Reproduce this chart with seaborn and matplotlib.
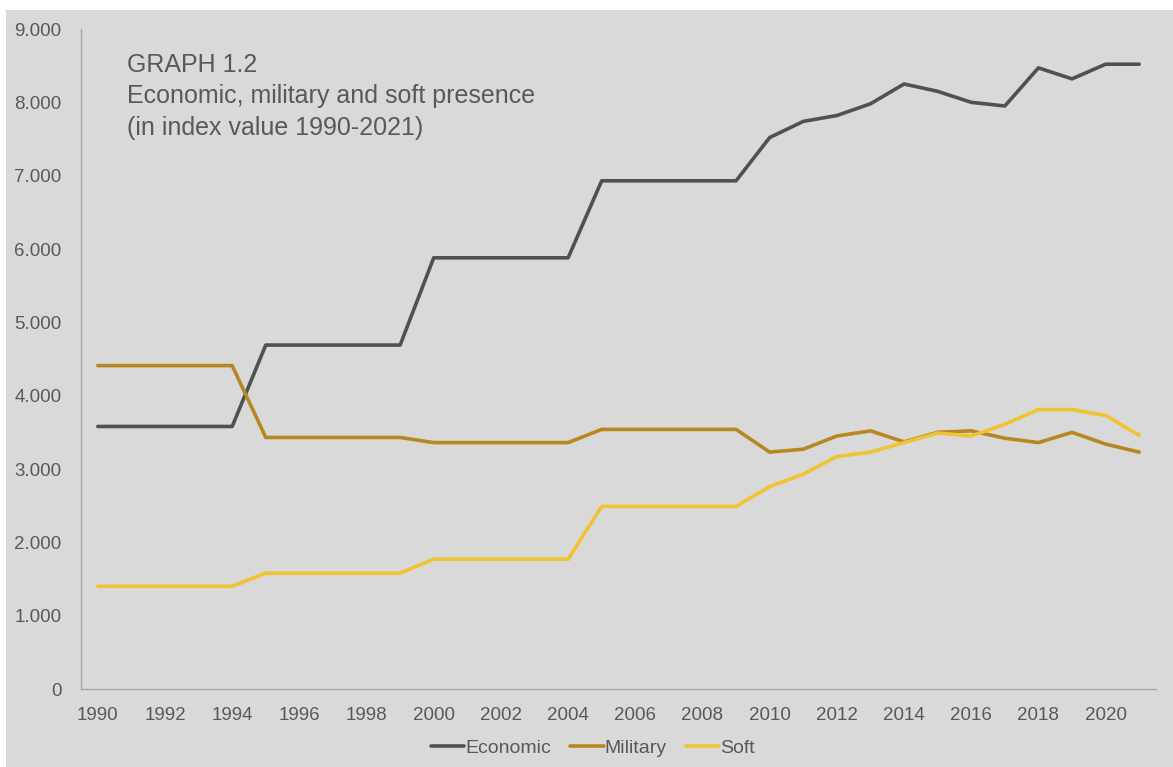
import numpy as np
import pandas as pd
import seaborn as sns
import matplotlib.pyplot as plt
import matplotlib.ticker as mtick
from matplotlib.patches import Rectangle

# data (index values)
years = list(range(1990, 2022))
economic = [3580, 3580, 3580, 3580, 3580, 4690, 4690, 4690, 4690, 4690,
            5880, 5880, 5880, 5880, 5880, 6930, 6930, 6930, 6930, 6930,
            7520, 7740, 7820, 7980, 8250, 8150, 8000, 7950, 8470, 8320,
            8520, 8520]
military = [4410, 4410, 4410, 4410, 4410, 3430, 3430, 3430, 3430, 3430,
            3360, 3360, 3360, 3360, 3360, 3540, 3540, 3540, 3540, 3540,
            3230, 3270, 3450, 3520, 3370, 3500, 3520, 3420, 3360, 3500,
            3340, 3230]
soft = [1400, 1400, 1400, 1400, 1400, 1580, 1580, 1580, 1580, 1580,
        1770, 1770, 1770, 1770, 1770, 2490, 2490, 2490, 2490, 2490,
        2760, 2930, 3170, 3230, 3360, 3490, 3450, 3610, 3810, 3810,
        3730, 3460]
series_names = ['Economic', 'Military', 'Soft']
colors = ['#515154', '#b78822', '#f1c232']

df = pd.DataFrame({'Year': years, 'Economic': economic,
                   'Military': military, 'Soft': soft})
long_df = df.melt(id_vars='Year', var_name='Series', value_name='Value')

sns.set_style('white')
plt.rcParams['font.family'] = ['Liberation Sans', 'DejaVu Sans']
txt = '#595959'

fig = plt.figure(figsize=(11.73, 7.67), dpi=100)
fig.patches.append(Rectangle((6 / 1173, 0), 1, 1 - 10 / 767, transform=fig.transFigure,
                             facecolor='#d9d9d9', edgecolor='none', zorder=-10))
ax = fig.add_axes([81 / 1173, 1 - 689 / 767, (1156 - 81) / 1173, (689 - 29) / 767])
ax.patch.set_alpha(0)

sns.lineplot(data=long_df, x='Year', y='Value', hue='Series',
             hue_order=series_names, palette=colors, linewidth=2.6, ax=ax,
             legend=True)

ax.set_xlim(1989.5, 2021.5)
ax.set_ylim(0, 9000)
ax.set_xticks(range(1990, 2021, 2))
ax.xaxis.set_minor_locator(mtick.MultipleLocator(0.5))
ax.set_yticks(range(0, 9001, 1000))
ax.yaxis.set_major_formatter(mtick.FuncFormatter(lambda v, p: '0' if v == 0 else f'{v/1000:.3f}'))
ax.set_xlabel('')
ax.set_ylabel('')

for s in ['top', 'right']:
    ax.spines[s].set_visible(False)
for s in ['left', 'bottom']:
    ax.spines[s].set_color('#a6a6a6')
    ax.spines[s].set_linewidth(1)
ax.tick_params(axis='x', which='major', length=0, pad=13, labelsize=13.5, colors=txt)
ax.tick_params(axis='x', which='minor', length=4, color='#a6a6a6', width=1)
ax.tick_params(axis='y', length=4, color='#a6a6a6', width=1, pad=10,
               labelsize=13.5, labelcolor=txt)

ax.text(127 / 1173, 1 - 53 / 767,
        'GRAPH 1.2\nEconomic, military and soft presence\n(in index value 1990-2021)',
        transform=fig.transFigure, ha='left', va='top', fontsize=18,
        color=txt, linespacing=1.39)

handles, labels = ax.get_legend_handles_labels()
ax.legend_.remove()
fig.legend(handles, labels, loc='center', bbox_to_anchor=(593 / 1173, 1 - 748 / 767),
           ncol=3, frameon=False, fontsize=14, labelcolor=txt,
           handlelength=1.7, handletextpad=0.05, columnspacing=1.0)

plt.savefig('out.png', dpi=100)
